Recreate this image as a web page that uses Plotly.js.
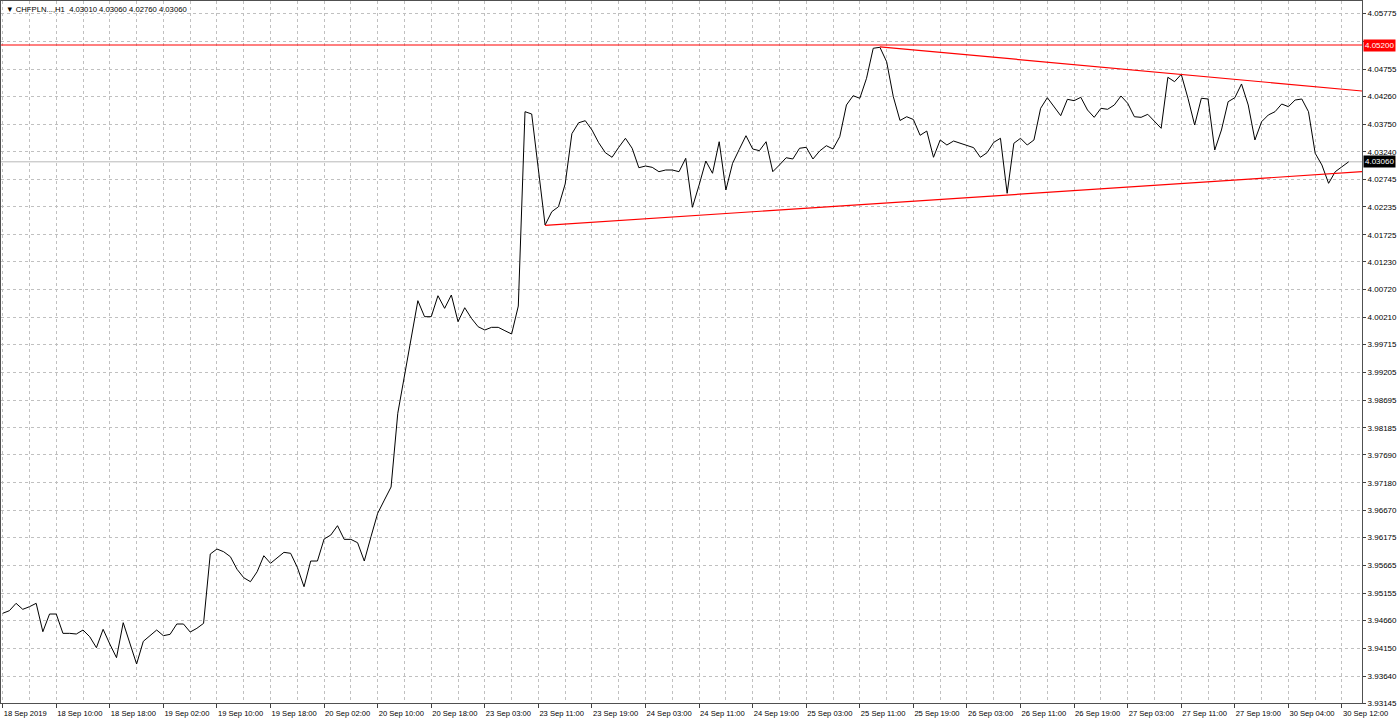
<!DOCTYPE html>
<html>
<head>
<meta charset="utf-8">
<script src="https://cdn.plot.ly/plotly-3.0.1.min.js"></script>
<style>
html,body{margin:0;padding:0;background:#fff;}
#chart{width:1400px;height:725px;}
</style>
</head>
<body>
<div id="chart"></div>
<script>
// Hourly closes CHFPLN H1, 18 Sep 2019 02:00 -> 30 Sep 2019 13:00 (bar index 0..201)
var closes = [
3.94789,3.94837,3.94972,3.94862,3.94910,3.94972,3.94452,3.94776,3.94776,3.94422,
3.94422,3.94410,3.94483,3.94360,3.94159,3.94496,3.94226,3.93976,3.94617,3.94250,
3.93860,3.94276,3.94373,3.94483,3.94379,3.94404,3.94593,3.94593,3.94446,3.94514,
3.94605,3.95875,3.95967,3.95917,3.95826,3.95595,3.95441,3.95368,3.95551,3.95844,
3.95705,3.95807,3.95906,3.95888,3.95631,3.95276,3.95747,3.95747,3.96150,3.96223,
3.96394,3.96144,3.96144,3.96082,3.95747,3.96192,3.96621,3.96864,3.97103,3.98453,
3.99154,3.99856,4.00516,4.00223,4.00223,4.00607,4.00376,4.00620,4.00131,4.00387,
4.00193,4.00039,3.99979,4.00028,4.00028,3.99966,3.99906,4.00418,4.03978,4.03936,
4.02928,4.01902,4.02146,4.02238,4.02654,4.03575,4.03775,4.03813,4.03643,4.03410,
4.03227,4.03143,4.03326,4.03491,4.03308,4.02952,4.02983,4.02959,4.02879,4.02910,
4.02910,4.02879,4.03124,4.02227,4.02635,4.03075,4.02850,4.03428,4.02544,4.03033,
4.03289,4.03538,4.03295,4.03264,4.03428,4.02879,4.03002,4.03135,4.03112,4.03308,
4.03326,4.03112,4.03258,4.03355,4.03295,4.03520,4.04101,4.04271,4.04224,4.04590,
4.05140,4.05158,4.04894,4.04253,4.03817,4.03886,4.03835,4.03546,4.03624,4.03143,
4.03460,4.03368,4.03441,4.03399,4.03350,4.03319,4.03143,4.03227,4.03417,4.03491,
4.02483,4.03399,4.03491,4.03368,4.03460,4.04040,4.04235,4.04070,4.03905,4.04205,
4.04180,4.04242,4.04009,4.03875,4.04040,4.04022,4.04101,4.04266,4.04132,4.03886,
4.03875,4.03930,4.03808,4.03674,4.04608,4.04528,4.04663,4.04224,4.03734,4.04224,
4.04211,4.03276,4.03643,4.04161,4.04235,4.04486,4.04101,4.03460,4.03795,4.03918,
4.03978,4.04119,4.04070,4.04192,4.04211,4.03978,4.03216,4.03002,4.02666,4.02879,
4.02970,4.03060
];

var xTickBars = [0,8,16,24,32,40,48,56,64,72,80,88,96,104,112,120,128,136,144,152,160,168,176,184,192,200];
var xTickLabels = ["18 Sep 2019","18 Sep 10:00","18 Sep 18:00","19 Sep 02:00","19 Sep 10:00","19 Sep 18:00",
  "20 Sep 02:00","20 Sep 10:00","20 Sep 18:00","23 Sep 03:00","23 Sep 11:00","23 Sep 19:00",
  "24 Sep 03:00","24 Sep 11:00","24 Sep 19:00","25 Sep 03:00","25 Sep 11:00","25 Sep 19:00",
  "26 Sep 03:00","26 Sep 11:00","26 Sep 19:00","27 Sep 03:00","27 Sep 11:00","27 Sep 19:00",
  "30 Sep 04:00","30 Sep 12:00"];

// 4.05265 sits behind the red level box in the reference, so only its grid line shows
var yTickValues = [4.05775,4.05265,4.04755,4.04260,4.03750,4.03240,4.02745,4.02235,4.01725,4.01230,
  4.00720,4.00210,3.99715,3.99205,3.98695,3.98185,3.97690,3.97180,3.96670,3.96175,
  3.95665,3.95155,3.94660,3.94150,3.93640,3.93145];
var yTickLabels = ["4.05775","","4.04755","4.04260","4.03750","4.03240","4.02745","4.02235","4.01725","4.01230",
  "4.00720","4.00210","3.99715","3.99205","3.98695","3.98185","3.97690","3.97180","3.96670","3.96175",
  "3.95665","3.95155","3.94660","3.94150","3.93640","3.93145"];

var resistanceLevel = 4.05200;
var currentPrice = 4.03060;
var upperTrendBars = [131, 203];
var upperTrendValues = [4.05167, 4.04357];
var lowerTrendBars = [81, 203];
var lowerTrendValues = [4.01895, 4.02879];

var headerText = "CHFPLN...,H1  4.03010 4.03060 4.02760 4.03060";

var bars = closes.map(function(_, i){ return i; });

var FONT = "Liberation Sans, Arial, sans-serif";

var traces = [
  {x: bars, y: closes, type: "scatter", mode: "lines",
   line: {color: "#000000", width: 1}, hoverinfo: "skip"},
  {x: upperTrendBars, y: upperTrendValues, type: "scatter", mode: "lines",
   line: {color: "#ff0000", width: 1.2}, hoverinfo: "skip"},
  {x: lowerTrendBars, y: lowerTrendValues, type: "scatter", mode: "lines",
   line: {color: "#ff0000", width: 1.2}, hoverinfo: "skip"}
];

var layout = {
  width: 1400, height: 725,
  margin: {l: 1, r: 38, t: 1, b: 22, pad: 0},
  paper_bgcolor: "#ffffff", plot_bgcolor: "#ffffff",
  showlegend: false, hovermode: false,
  font: {family: FONT, size: 8, color: "#000000"},
  xaxis: {
    range: [-0.25, 202.99], autorange: false, fixedrange: true,
    tickmode: "array", tickvals: xTickBars, ticktext: xTickLabels, tickangle: 0,
    ticks: "outside", ticklen: 4, tickcolor: "#404040", tickwidth: 1,
    ticklabelposition: "outside right", ticklabeloverflow: "allow", ticklabelstandoff: 3,
    tickfont: {family: FONT, size: 7.6, color: "#000000"},
    showgrid: true, gridcolor: "#c0c0c0", griddash: "3px,3px", gridwidth: 1,
    minor: {tick0: 4, dtick: 8, showgrid: true, gridcolor: "#c0c0c0", griddash: "3px,3px", ticks: ""},
    showline: true, linecolor: "#505050", linewidth: 1, mirror: true,
    zeroline: false, automargin: false
  },
  yaxis: {
    side: "right",
    range: [3.93146, 4.06006], autorange: false, fixedrange: true,
    tickmode: "array", tickvals: yTickValues, ticktext: yTickLabels,
    ticks: "outside", ticklen: 3, tickcolor: "#404040", tickwidth: 1,
    tickfont: {family: FONT, size: 8, color: "#000000"},
    showgrid: true, gridcolor: "#c0c0c0", griddash: "3px,3px", gridwidth: 1,
    showline: true, linecolor: "#505050", linewidth: 1, mirror: true,
    zeroline: false, automargin: false
  },
  shapes: [
    {type: "line", xref: "paper", x0: 0, x1: 1, yref: "y", y0: currentPrice, y1: currentPrice,
     line: {color: "#b8b8b8", width: 1}, layer: "below"},
    {type: "line", xref: "paper", x0: 0, x1: 1, yref: "y", y0: resistanceLevel, y1: resistanceLevel,
     line: {color: "#ff0000", width: 1}}
  ],
  annotations: [
    {xref: "paper", yref: "y", x: 1, y: resistanceLevel, xanchor: "left", yanchor: "middle", xshift: 1,
     text: resistanceLevel.toFixed(5), showarrow: false, bgcolor: "#ff0000", borderpad: 1,
     font: {family: FONT, size: 8, color: "#ffffff"}},
    {xref: "paper", yref: "y", x: 1, y: currentPrice, xanchor: "left", yanchor: "middle", xshift: 1,
     text: currentPrice.toFixed(5), showarrow: false, bgcolor: "#000000", borderpad: 1,
     font: {family: FONT, size: 8, color: "#ffffff"}},
    {xref: "paper", yref: "paper", x: 0, y: 1, xanchor: "left", yanchor: "top", xshift: 3, yshift: -2,
     text: "\u25BC " + headerText, showarrow: false,
     font: {family: FONT, size: 7.7, color: "#000000"}}
  ]
};

Plotly.newPlot("chart", traces, layout, {displayModeBar: false, staticPlot: true});
</script>
</body>
</html>
